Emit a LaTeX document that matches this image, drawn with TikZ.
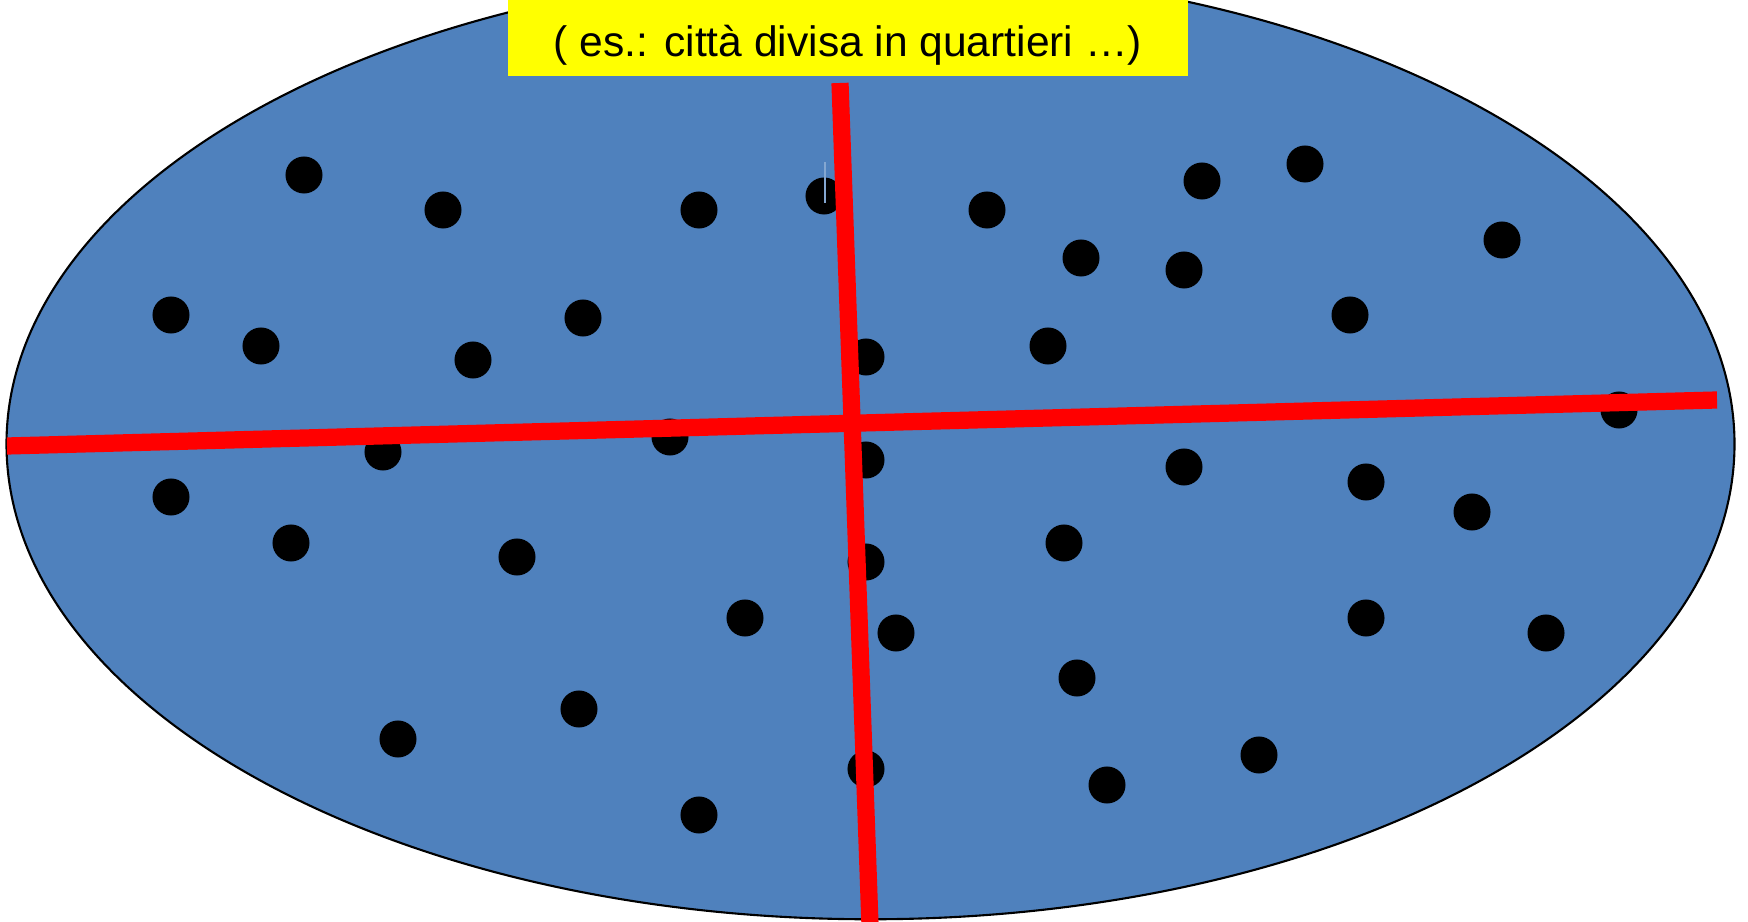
\documentclass[tikz,border=0pt]{standalone}
\usepackage{fontspec}
\setmainfont{Liberation Sans}
\usepackage{xcolor}
\usetikzlibrary{positioning}

\definecolor{cittablu}{RGB}{79,129,189}
\definecolor{giallo}{RGB}{255,255,0}

\begin{document}
\begin{tikzpicture}[
    x=0.01cm, y=-0.01cm,
    punto/.style={circle, fill=black, inner sep=0pt, minimum size=0.37cm},
    taglio/.style={draw=red, line width=4.9pt},
    etichetta/.style={rectangle, fill=giallo, minimum width=6.8cm, minimum height=0.76cm,
        inner sep=0pt, font=\fontsize{12.1}{14}\selectfont}
]
\useasboundingbox (0,0) rectangle (1748,922);
\clip (0,0) rectangle (1748,922);

% la citta
\draw[fill=cittablu, line width=0.6pt] (870.5,444) ellipse [x radius=8.635cm, y radius=4.75cm];

% abitanti
\foreach \px/\py [count=\i] in {304/175, 443/210, 699/210, 824/196, 987/210, 1202/181,
    1305/164, 1081/258, 1184/270, 1502/240, 171/315, 261/346, 473/360, 583/318,
    866/357, 1048/346, 1350/315, 1619/410, 670/437, 383/452, 866/460, 1184/467,
    1366/482, 1472/512, 171/497, 291/543, 517/557, 1064/543, 866/562, 745/618,
    896/633, 1366/618, 1546/633, 1077/678, 579/709, 398/739, 866/769, 1259/755,
    1107/785, 699/815}
  \node[punto] (p\i) at (\px,\py) {};
\draw[cittablu!70!white, line width=0.3pt] (825,162) -- (825,203);

% quartieri
\coordinate (nord) at (840,83);
\coordinate (sud) at (870,925);
\coordinate (ovest) at (7,446);
\coordinate (est) at (1717,400);
\draw[taglio] (ovest) -- (est);
\draw[taglio] (nord) -- (sud);

\node[etichetta] (titolo) at (848,38)
  {\raisebox{-0.07cm}[\height][\depth]{( es.: città divisa in quartieri \dots)}};
\end{tikzpicture}
\end{document}
